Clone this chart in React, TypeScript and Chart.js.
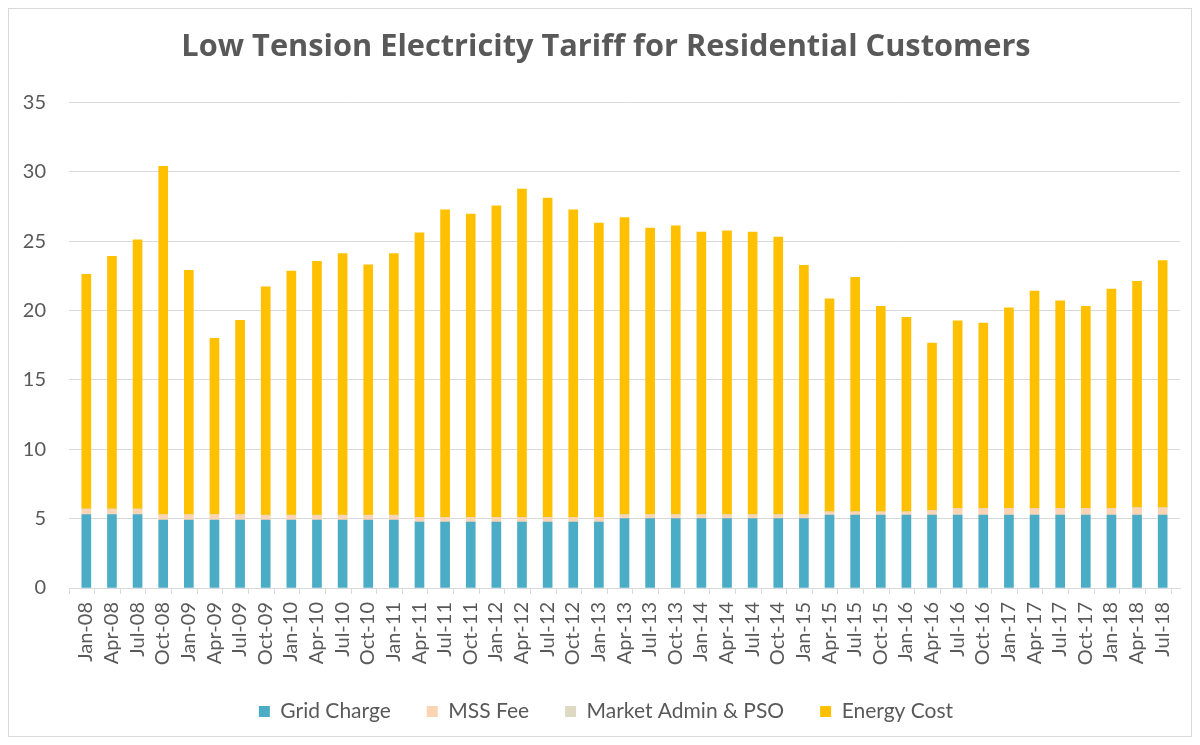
import React, { useEffect, useRef } from "react";
import { Chart, registerables } from "chart.js";

Chart.register(...registerables);

const categories = [
  "Jan-08", "Apr-08", "Jul-08", "Oct-08",
  "Jan-09", "Apr-09", "Jul-09", "Oct-09",
  "Jan-10", "Apr-10", "Jul-10", "Oct-10",
  "Jan-11", "Apr-11", "Jul-11", "Oct-11",
  "Jan-12", "Apr-12", "Jul-12", "Oct-12",
  "Jan-13", "Apr-13", "Jul-13", "Oct-13",
  "Jan-14", "Apr-14", "Jul-14", "Oct-14",
  "Jan-15", "Apr-15", "Jul-15", "Oct-15",
  "Jan-16", "Apr-16", "Jul-16", "Oct-16",
  "Jan-17", "Apr-17", "Jul-17", "Oct-17",
  "Jan-18", "Apr-18", "Jul-18",
];

const gridCharge = [
  5.3, 5.3, 5.3, 4.9,
  4.9, 4.9, 4.9, 4.9,
  4.9, 4.9, 4.9, 4.9,
  4.9, 4.75, 4.75, 4.75,
  4.75, 4.75, 4.75, 4.75,
  4.75, 5.0, 5.0, 5.0,
  5.0, 5.0, 5.0, 5.0,
  5.0, 5.25, 5.25, 5.25,
  5.25, 5.25, 5.25, 5.25,
  5.25, 5.25, 5.25, 5.25,
  5.25, 5.25, 5.25,
];

const mssFee = [
  0.35, 0.35, 0.35, 0.35,
  0.35, 0.35, 0.35, 0.3,
  0.3, 0.3, 0.3, 0.3,
  0.3, 0.3, 0.3, 0.3,
  0.3, 0.3, 0.3, 0.3,
  0.3, 0.25, 0.25, 0.25,
  0.25, 0.25, 0.25, 0.25,
  0.25, 0.2, 0.2, 0.2,
  0.2, 0.3, 0.45, 0.45,
  0.45, 0.45, 0.45, 0.45,
  0.45, 0.5, 0.5,
];

const marketAdmin = [
  0.05, 0.05, 0.05, 0.05,
  0.05, 0.05, 0.05, 0.05,
  0.05, 0.05, 0.05, 0.05,
  0.05, 0.05, 0.05, 0.05,
  0.05, 0.05, 0.05, 0.05,
  0.05, 0.05, 0.05, 0.05,
  0.05, 0.05, 0.05, 0.05,
  0.05, 0.05, 0.05, 0.05,
  0.05, 0.05, 0.05, 0.05,
  0.05, 0.05, 0.05, 0.05,
  0.05, 0.05, 0.05,
];

const energyCost = [
  16.9, 18.2, 19.4, 25.1,
  17.6, 12.7, 14.0, 16.45,
  17.6, 18.3, 18.85, 18.05,
  18.85, 20.5, 22.15, 21.85,
  22.45, 23.65, 23.0, 22.15,
  21.2, 21.4, 20.65, 20.8,
  20.35, 20.45, 20.35, 20.0,
  17.95, 15.35, 16.9, 14.8,
  14.0, 12.05, 13.5, 13.35,
  14.45, 15.65, 14.95, 14.55,
  15.8, 16.3, 17.8,
];

const yMin = 0;
const yMax = 35;
const yStep = 5;

const TEXT = "#595959";
const GRID = "#d9d9d9";
const FONT = "Lato";
const HALF = 0.1716;

export default function App() {
  const ref = useRef<HTMLCanvasElement>(null);

  useEffect(() => {
    if (!ref.current) return;
    const toPoints = (arr: number[]) => arr.map((y, i) => ({ x: i, y }));
    const mk = (label: string, arr: number[], color: string) => ({
      label,
      data: toPoints(arr),
      backgroundColor: color,
      borderWidth: 0,
      barThickness: 9,
    });
    const chart = new Chart(ref.current, {
      type: "bar",
      data: {
        datasets: [
          mk("Grid Charge", gridCharge, "#4BACC6"),
          mk("MSS Fee", mssFee, "#FBD4B4"),
          mk("Market Admin & PSO", marketAdmin, "#DDD9C3"),
          mk("Energy Cost", energyCost, "#FFC000"),
        ] as any,
      },
      options: {
        responsive: false,
        animation: false,
        layout: { padding: { left: 12, right: 0, top: 0, bottom: 4 } },
        plugins: {
          title: {
            display: true,
            text: "Low Tension Electricity Tariff for Residential Customers",
            color: TEXT,
            font: { family: "Open Sans", size: 30.75, weight: "bold" },
            padding: { top: 19.5, bottom: 37 },
          },
          legend: {
            position: "bottom",
            labels: {
              color: TEXT,
              font: { family: FONT, size: 21 },
              boxWidth: 11,
              boxHeight: 11,
              padding: 36,
            },
          },
          tooltip: { enabled: false },
        },
        scales: {
          x: {
            type: "linear",
            stacked: true,
            min: -HALF,
            max: categories.length - 1 + HALF,
            bounds: "data",
            grid: { drawOnChartArea: false, color: GRID, tickLength: 6 },
            border: { display: true, color: GRID },
            ticks: {
              autoSkip: false,
              maxRotation: 90,
              minRotation: 90,
              padding: 8,
              labelOffset: 4,
              color: TEXT,
              font: { family: FONT, size: 20 },
              callback: (_v: any, i: number) => categories[i],
            },
            afterBuildTicks: (s: any) => {
              s.ticks = categories.map((_, i) => ({ value: i - HALF }));
            },
            afterFit: (s: any) => {
              s.height = 77;
            },
          },
          y: {
            stacked: true,
            min: yMin,
            max: yMax,
            grid: { color: GRID, drawTicks: false },
            border: { display: false },
            ticks: {
              stepSize: yStep,
              padding: 23,
              color: TEXT,
              font: { family: FONT, size: 20 },
            },
            afterFit: (s: any) => {
              s.width = 48;
            },
          },
          yRight: {
            position: "right",
            min: yMin,
            max: yMax,
            grid: { drawOnChartArea: false, drawTicks: false },
            border: { display: false },
            ticks: { display: false },
            afterFit: (s: any) => {
              s.width = 11;
            },
          },
        },
      } as any,
    });
    return () => chart.destroy();
  }, []);

  return (
    <div
      style={{
        width: 1184,
        height: 729,
        border: "1px solid #d9d9d9",
        boxSizing: "border-box",
        background: "#fff",
      }}
    >
      <canvas ref={ref} width={1182} height={727} style={{ display: "block" }} />
    </div>
  );
}
